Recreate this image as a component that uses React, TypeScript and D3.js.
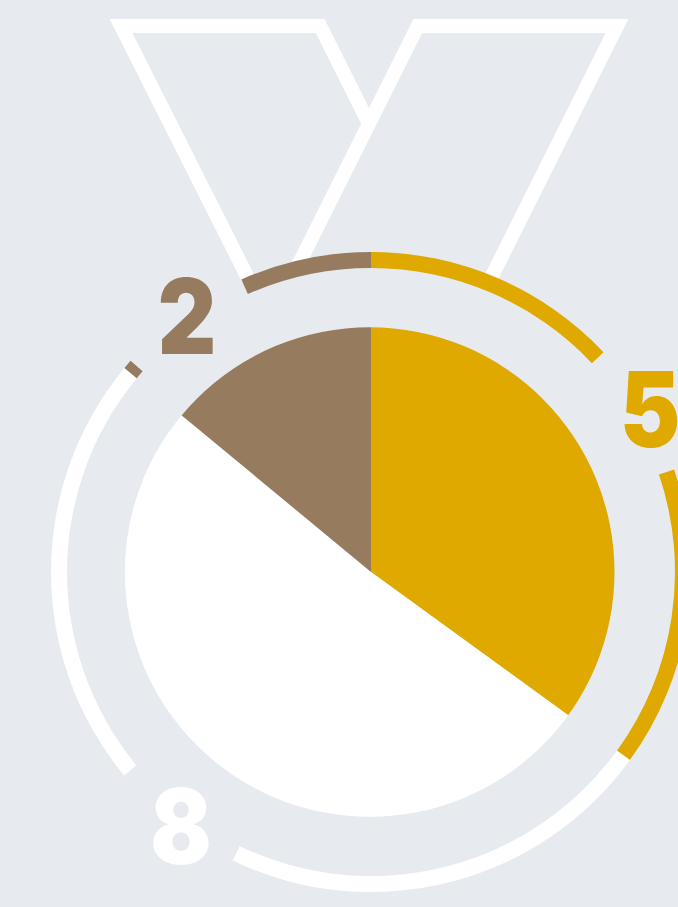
import React from "react";
import * as d3 from "d3";

const categories = ["gold", "silver", "bronze"];
const shares = [35, 51, 14];
const counts = ["5", "8", "2"];
const colors = ["#DFA900", "#FFFFFF", "#967B5E"];
// visible ring spans, in degrees clockwise from twelve o'clock
const ringSpans = [
  [[0, 46.6], [71.3, 126]],
  [[126, 205.6], [230.5, 309.6]],
  [[309.6, 311.3], [336.1, 360]],
];
const labelAnchors: [number, number][] = [[650, 447], [181, 864], [187, 354]];

const W = 678, H = 907, CX = 371, CY = 572;
const rad = (d: number) => (d * Math.PI) / 180;

export default function App() {
  const slices = d3.pie<number>().sort(null)(shares);
  const pieArc = d3.arc<d3.PieArcDatum<number>>().innerRadius(0).outerRadius(262);
  const ringArc = d3.arc<number[]>()
    .innerRadius(304)
    .outerRadius(320)
    .startAngle((d) => rad(d[0]))
    .endAngle((d) => rad(d[1]));
  const line = d3.line();
  const ribbonPaths = [
    line([[249, 280], [121, 26], [320.2, 26], [369, 123.6]]),
    line([[290.8, 280], [417.8, 26], [617, 26], [490, 280]]),
  ];
  return (
    <svg width={W} height={H} viewBox={`0 0 ${W} ${H}`} style={{ position: "absolute", left: 0, top: 0, display: "block", background: "#E7EBF0" }}>
      <defs>
        <clipPath id="outside">
          <path clipRule="evenodd" d={`M0 0H${W}V${H}H0Z M${CX - 316} ${CY}A316 316 0 1 0 ${CX + 316} ${CY}A316 316 0 1 0 ${CX - 316} ${CY}Z`} />
        </clipPath>
        <clipPath id="disc">
          <circle cx={-1.3} cy={0} r={244.8} />
        </clipPath>
      </defs>
      <g clipPath="url(#outside)">
        {ribbonPaths.map((d, i) => (
          <path key={i} d={d!} fill="none" stroke="#fff" strokeWidth={14} strokeLinejoin="miter" strokeMiterlimit={10} />
        ))}
      </g>
      <g transform={`translate(${CX},${CY})`}>
        <g clipPath="url(#disc)">
          {slices.map((s, i) => (
            <path key={categories[i]} d={pieArc(s)!} fill={colors[i]} />
          ))}
        </g>
        {ringSpans.map((spans, i) =>
          spans.map((sp, j) => <path key={`${i}-${j}`} d={ringArc(sp)!} fill={colors[i]} />)
        )}
      </g>
      {counts.map((c, i) => (
        <text
          key={c}
          transform={`translate(${labelAnchors[i][0]},${labelAnchors[i][1]}) scale(0.87,1)`}
          textAnchor="middle"
          fontFamily="Inter"
          fontWeight={900}
          fontSize={104}
          fill={colors[i]}
        >
          {c}
        </text>
      ))}
    </svg>
  );
}
